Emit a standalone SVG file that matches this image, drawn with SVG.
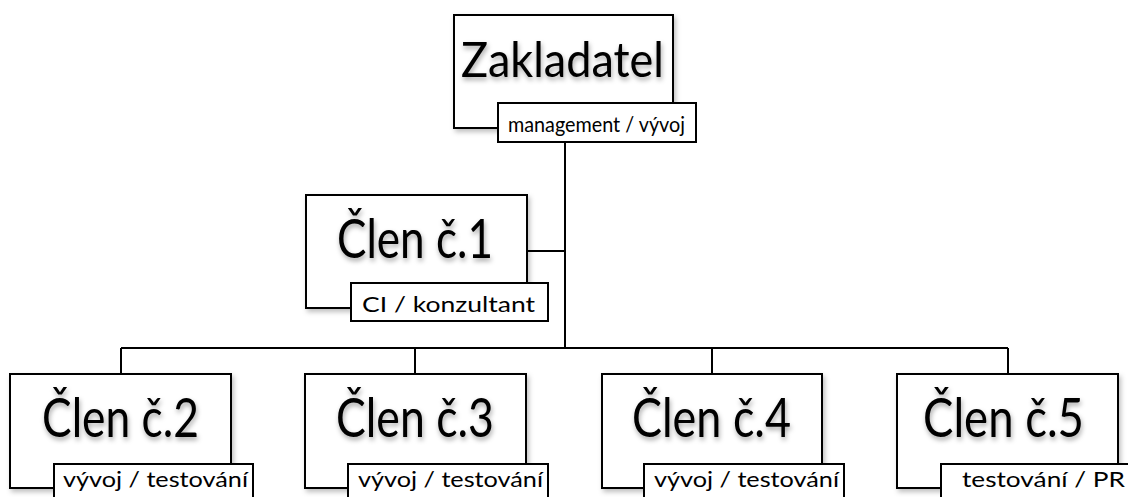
<svg xmlns="http://www.w3.org/2000/svg" width="1128" height="497" viewBox="0 0 1128 497">
<defs>
<filter id="sh" x="-10%" y="-10%" width="130%" height="140%">
<feDropShadow dx="2" dy="3" stdDeviation="2.5" flood-color="#000" flood-opacity="0.25"/>
</filter>
<filter id="tsh" x="-10%" y="-20%" width="130%" height="150%">
<feDropShadow dx="1" dy="3" stdDeviation="2.5" flood-color="#000" flood-opacity="0.35"/>
</filter>
</defs>
<style>
.box{fill:#fff;stroke:#000;stroke-width:2;filter:url(#sh)}
.lbl{fill:#fff;stroke:#000;stroke-width:2}
.big{font-family:Lato,"Open Sans",sans-serif;font-size:54px;fill:#000;filter:url(#tsh)}
.small{font-family:Lato,"Open Sans",sans-serif;font-size:21px;fill:#000}
.conn{stroke:#000;stroke-width:2;fill:none}
</style>
<rect width="1128" height="497" fill="#fff"/>
<g id="connectors">
<path class="conn" d="M565 142 V348"/>
<path class="conn" d="M527 251 H565"/>
<path class="conn" d="M121 348 H1008"/>
<path class="conn" d="M121 348 V374 M415 348 V374 M712 348 V374 M1008 348 V374"/>
</g>
<g id="zakladatel">
<rect class="box" x="454" y="15" width="219" height="113"/>
<text class="big" x="461" y="77" textLength="203" lengthAdjust="spacingAndGlyphs" style="font-size:48px">Zakladatel</text>
<rect class="lbl" x="498" y="103" width="198" height="39"/>
<text class="small" x="508" y="132" textLength="177" lengthAdjust="spacingAndGlyphs">management / vývoj</text>
</g>
<g id="clen1">
<rect class="box" x="306" y="195" width="221" height="113"/>
<text class="big" x="337" y="258" textLength="156" lengthAdjust="spacingAndGlyphs">Člen č.1</text>
<rect class="lbl" x="351" y="283" width="197" height="38"/>
<text class="small" x="362" y="312" textLength="173" lengthAdjust="spacingAndGlyphs">CI / konzultant</text>
</g>
<g id="clen2">
<rect class="box" x="10" y="374" width="221" height="114"/>
<text class="big" x="42" y="437" textLength="157" lengthAdjust="spacingAndGlyphs">Člen č.2</text>
<rect class="lbl" x="54" y="464" width="199" height="40"/>
<text class="small" x="63" y="487" textLength="185" lengthAdjust="spacingAndGlyphs">vývoj / testování</text>
</g>
<g id="clen3">
<rect class="box" x="305" y="374" width="221" height="114"/>
<text class="big" x="336" y="437" textLength="158" lengthAdjust="spacingAndGlyphs">Člen č.3</text>
<rect class="lbl" x="348" y="464" width="200" height="40"/>
<text class="small" x="358" y="487" textLength="185" lengthAdjust="spacingAndGlyphs">vývoj / testování</text>
</g>
<g id="clen4">
<rect class="box" x="602" y="374" width="220" height="114"/>
<text class="big" x="632" y="437" textLength="159" lengthAdjust="spacingAndGlyphs">Člen č.4</text>
<rect class="lbl" x="644" y="464" width="200" height="40"/>
<text class="small" x="654" y="487" textLength="185" lengthAdjust="spacingAndGlyphs">vývoj / testování</text>
</g>
<g id="clen5">
<rect class="box" x="897" y="374" width="221" height="114"/>
<text class="big" x="923" y="437" textLength="161" lengthAdjust="spacingAndGlyphs">Člen č.5</text>
<rect class="lbl" x="941" y="464" width="200" height="40"/>
<text class="small" x="962" y="487" textLength="163" lengthAdjust="spacingAndGlyphs">testování / PR</text>
</g>
</svg>
